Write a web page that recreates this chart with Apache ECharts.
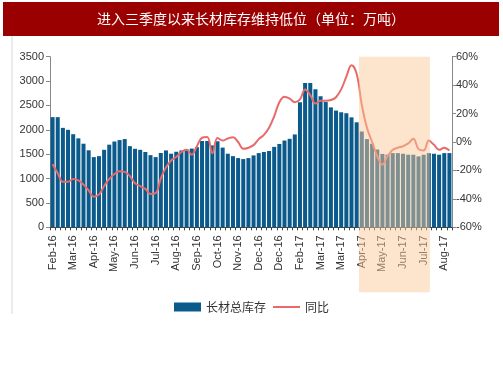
<!DOCTYPE html>
<html><head><meta charset="utf-8">
<script src="https://cdn.jsdelivr.net/npm/echarts@6/dist/echarts.min.js"></script>
<style>html,body{margin:0;padding:0;background:#fff;}#c{width:503px;height:378px;}</style>
</head><body><div id="c"></div>
<script>
// month tick labels shown every 4 weeks
const tickLabels = ['Feb-16','Mar-16','Apr-16','May-16','Jun-16','Jul-16','Aug-16','Sep-16','Oct-16','Nov-16',
  'Dec-16','Dec-16','Feb-17','Mar-17','Mar-17','Apr-17','May-17','Jun-17','Jul-17','Aug-17'];
// 长材总库存 (万吨), weekly
const inventory = [2260,2260,2040,2000,1910,1825,1715,1580,1440,1460,
  1590,1695,1760,1790,1810,1665,1610,1590,1545,1480,
  1440,1525,1577,1510,1550,1577,1597,1615,1645,1770,
  1770,1680,1765,1635,1510,1460,1420,1400,1420,1475,
  1522,1545,1565,1650,1710,1780,1815,1905,2565,2958,
  2958,2830,2690,2570,2460,2395,2360,2340,2256,2154,
  1965,1810,1714,1595,1505,1490,1522,1522,1509,1489,
  1489,1455,1489,1522,1509,1489,1522,1522];
// 同比 (%)
const yoy = [-15.7,-22,-28,-28,-26,-27,-30,-34,-38.5,-37,
  -31,-26,-22.5,-20.6,-21,-24,-29,-31,-33,-36.5,
  -36,-25.5,-18,-13,-10.5,-7,-5.5,-9,-3,3,
  3.5,-8,2.8,1,2.5,3.4,0,-4.8,-4,-2.2,
  2,5,10,18,28,31.8,30.5,28,30,37,
  33,27,29,29,29.5,31.5,37,46,54,48,
  26,10,0,-10,-16,-10,-5.5,-4,-3,-1,
  2.2,-5,-6,1,-2,-5.5,-4,-6];
// highlighted weeks (category indices)
const shadeFromIdx = 60, shadeToIdx = 73;

const categories = inventory.map((v, i) => tickLabels[Math.floor(i / 4)]);

const chart = echarts.init(document.getElementById('c'), null, {renderer: 'canvas'});
const FONT = '"Liberation Sans", Arial, sans-serif';
const option = {
  animation: false,
  backgroundColor: '#fff',
  textStyle: {fontFamily: FONT},
  grid: {left: 50, right: 51, top: 56.7, bottom: 150.7, containLabel: false},
  legend: {
    left: 'center', top: 296, itemWidth: 27, itemHeight: 9, itemGap: 6,
    textStyle: {fontSize: 12, color: '#333', fontFamily: '"Noto Sans CJK SC", sans-serif'},
    data: [{name: '长材总库存', icon: 'rect'}, {name: '同比', itemStyle: {opacity: 0}}]
  },
  xAxis: {
    type: 'category', data: categories, boundaryGap: true,
    axisLine: {lineStyle: {color: '#444', width: 1}},
    axisTick: {show: true, interval: 0, length: 3, lineStyle: {color: '#444'}},
    axisLabel: {interval: 3, rotate: 90, fontSize: 11, color: '#333', margin: 8, fontFamily: FONT},
    splitLine: {show: false}
  },
  yAxis: [{
    type: 'value', min: 0, max: 3500, interval: 500,
    axisLine: {show: true, lineStyle: {color: '#888'}},
    axisTick: {show: true, length: 4, lineStyle: {color: '#888'}},
    axisLabel: {fontSize: 11, color: '#333', margin: 6, fontFamily: FONT, formatter: v => String(v)},
    splitLine: {show: false}
  }, {
    type: 'value', min: -60, max: 60, interval: 20, position: 'right',
    axisLine: {show: true, lineStyle: {color: '#888'}},
    axisTick: {show: true, length: 4, lineStyle: {color: '#888'}},
    axisLabel: {fontSize: 11, color: '#333', margin: 4, formatter: '{value}%', fontFamily: FONT},
    splitLine: {show: false}
  }],
  series: [{
    name: '长材总库存', type: 'bar', data: inventory, yAxisIndex: 0,
    barCategoryGap: '22%',
    itemStyle: {color: '#0b5a8c'}
  }, {
    name: '同比', type: 'line', data: yoy, yAxisIndex: 1,
    smooth: 0.4, symbol: 'none',
    lineStyle: {color: '#e86a6a', width: 2},
    itemStyle: {color: '#e86a6a'}, z: 3
  }],
  graphic: [{
    type: 'line', shape: {x1: 12, y1: 36, x2: 12, y2: 314},
    style: {stroke: '#d8d8d8', lineWidth: 1}, silent: true
  }, {
    type: 'rect', shape: {x: 3, y: 2, width: 496, height: 34},
    style: {fill: '#9b0000'}, silent: true, z: 50
  }, {
    type: 'text', x: 251, y: 19, z: 51,
    style: {text: '进入三季度以来长材库存维持低位（单位：万吨）', fill: '#fff',
      font: '14px "Noto Sans CJK SC", sans-serif', align: 'center', verticalAlign: 'middle'}
  }]
};
chart.setOption(option);

// shaded highlight band over the chosen weeks
const c0 = chart.convertToPixel({xAxisIndex: 0}, shadeFromIdx);
const c1 = chart.convertToPixel({xAxisIndex: 0}, shadeFromIdx + 1);
const step = c1 - c0;
const cEnd = chart.convertToPixel({xAxisIndex: 0}, shadeToIdx);
const yTop = chart.convertToPixel({yAxisIndex: 0}, 3500);
const yBase = chart.convertToPixel({yAxisIndex: 0}, 0);
const xs = c0 - 0.55 * step, xe = cEnd + 0.2 * step;
chart.setOption({graphic: option.graphic.concat([{
  type: 'rect', z: 100, silent: true,
  shape: {x: xs, y: yTop, width: xe - xs, height: (yBase + 65) - yTop},
  style: {fill: 'rgba(251,200,151,0.49)'}
}])});
</script></body></html>
